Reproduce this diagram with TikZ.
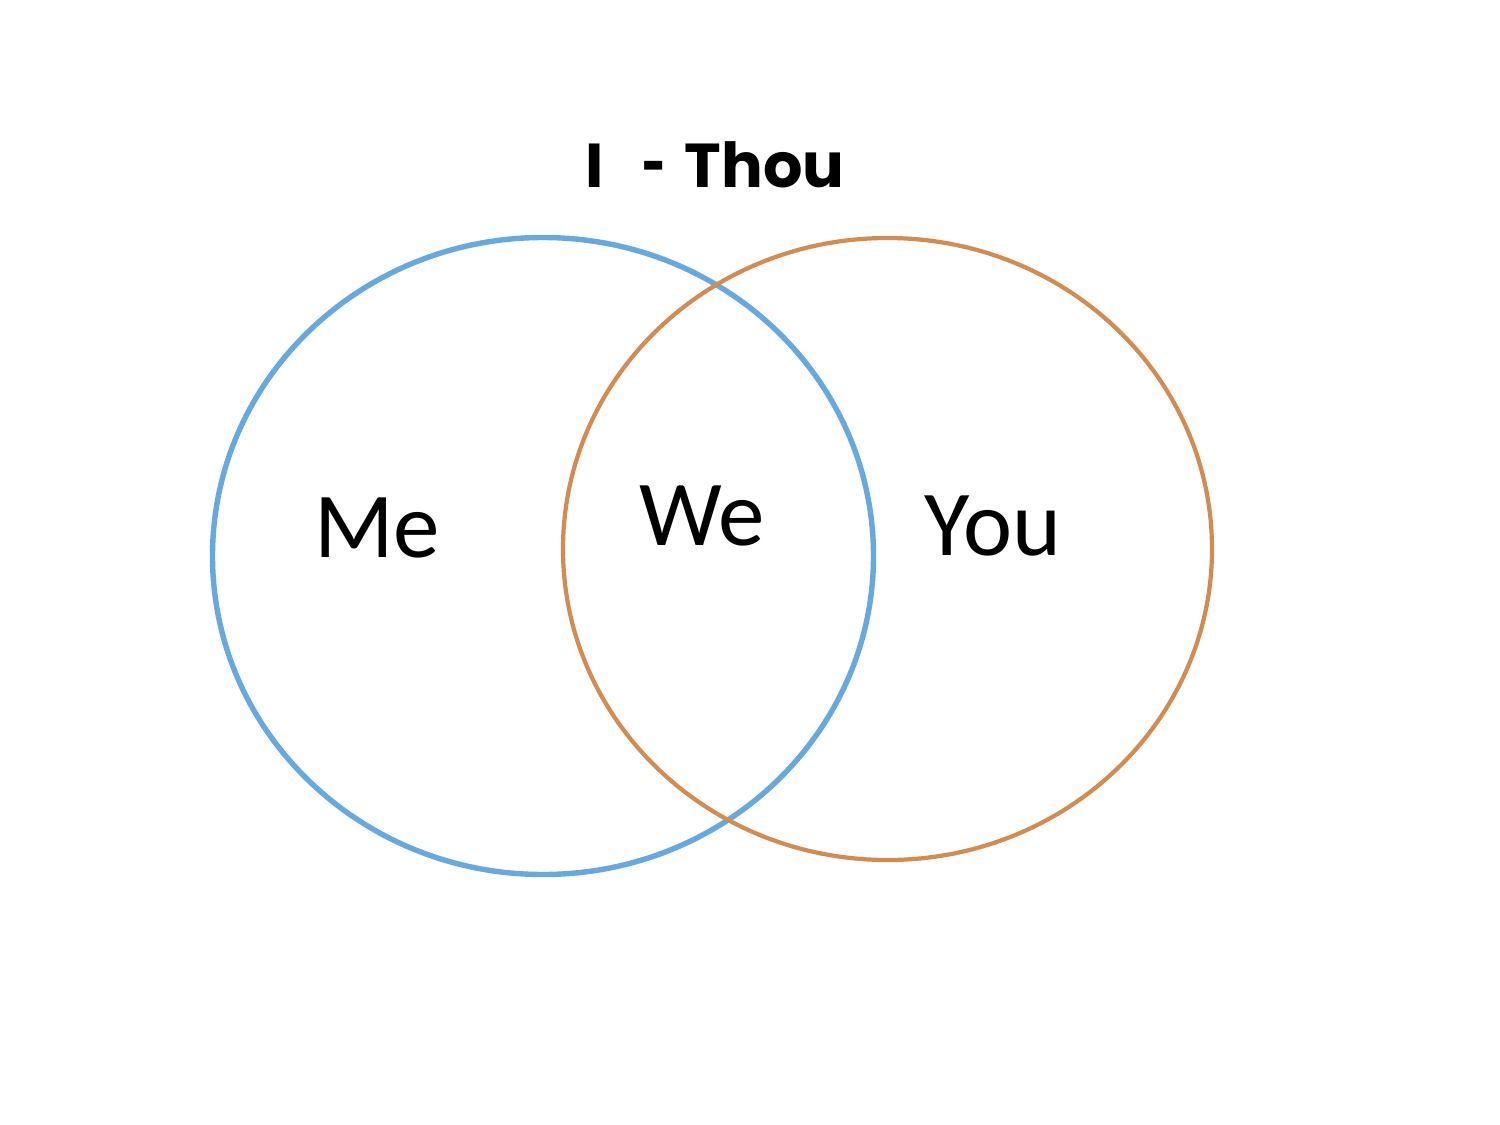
\documentclass[tikz,border=0pt]{standalone}
\usepackage{graphicx}
\usepackage{fontspec}
\setmainfont{Carlito}
\newfontfamily\titlefont{Poppins}
\definecolor{meblue}{HTML}{66A8E0}
\definecolor{youorange}{HTML}{D38B4F}
\begin{document}
\begin{tikzpicture}[x=0.5pt,y=-0.5pt,
  lbl/.style={anchor=base,inner sep=0pt,font=\fontsize{46.5pt}{50pt}\selectfont},
  ttl/.style={anchor=base,inner sep=0pt,font=\titlefont\bfseries\fontsize{31pt}{34pt}\selectfont}]
\useasboundingbox (0,0) rectangle (1500,1125);
\fill[white] (0,0) rectangle (1500,1125);
\draw[meblue,line width=2.7pt] (543,556) ellipse [x radius=165.25pt, y radius=159.25pt];
\draw[youorange,line width=2.1pt] (887.5,549) ellipse [x radius=162.25pt, y radius=155.5pt];
\node[ttl] (title) at (715,187) {I\kern0.62em\scalebox{0.66}[1]{-}\kern0.3em Thou};
\node[lbl] (me) at (377,557) {Me};
\node[lbl] (we) at (702,545) {We};
\node[lbl] (you) at (993,555) {You};
\end{tikzpicture}
\end{document}
